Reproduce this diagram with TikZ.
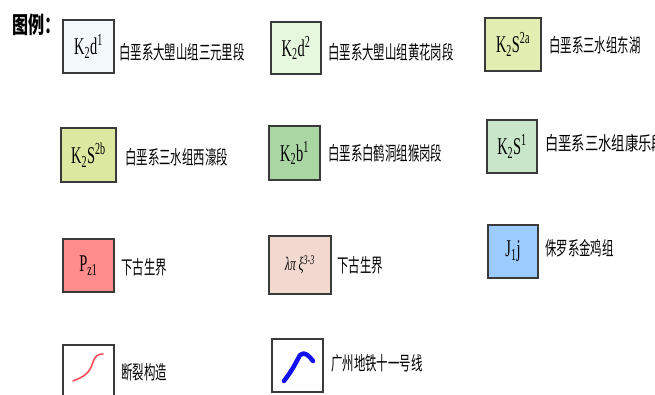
\documentclass[tikz,border=0pt]{standalone}
\usepackage{fontspec}
\setmainfont{Liberation Serif}[FakeStretch=0.6]
\newfontfamily\cjk[FakeStretch=0.6]{Noto Sans CJK SC}
\newfontfamily\cjkwide[FakeStretch=0.7]{Noto Sans CJK SC}
\usepackage{tikz}
\definecolor{edgegray}{HTML}{3A3A3A}
\definecolor{fillA}{HTML}{F4FAFC}
\definecolor{fillB}{HTML}{E6F9DF}
\definecolor{fillC}{HTML}{E2EDB2}
\definecolor{fillD}{HTML}{DCE8A0}
\definecolor{fillE}{HTML}{A9D6A2}
\definecolor{fillF}{HTML}{C9E6CA}
\definecolor{fillG}{HTML}{FF8C8C}
\definecolor{fillH}{HTML}{F2D9CF}
\definecolor{fillI}{HTML}{9CCBFF}
\definecolor{faultred}{HTML}{FF4F5A}
\definecolor{metroblue}{HTML}{1010F0}
\tikzset{
  legbox/.style={draw=edgegray,line width=1.4pt,inner sep=0pt,font=\fontsize{24}{24}\selectfont},
  legtext/.style={anchor=west,inner sep=0pt,font=\cjk\fontsize{19}{19}\selectfont},
}

\begin{document}
\begin{tikzpicture}[x=1pt,y=-1pt]
				\useasboundingbox (0,0) rectangle (655,394);
				%\draw (0,0) grid (655,394);
				\node[anchor=west,inner sep=0pt,font=\cjkwide\bfseries\fontsize{23}{23}\selectfont] (title) at (12,25) {图例：};
				% row 1
				\node[legbox,fill=fillA,minimum width=51pt,minimum height=53pt] (k2d1) at (88.5,46.5) {K\textsubscript{2}d\textsuperscript{1}};
				\node[legtext] (t1) at (119,52) {白垩系大塱山组三元里段};
				\node[legbox,fill=fillB,minimum width=50pt,minimum height=52pt] (k2d2) at (296,48) {K\textsubscript{2}d\textsuperscript{2}};
				\node[legtext] (t2) at (328,52) {白垩系大塱山组黄花岗段};
				\node[legbox,fill=fillC,minimum width=56pt,minimum height=53pt] (k2s2a) at (513,44.5) {K\textsubscript{2}S\textsuperscript{2a}};
				\node[legtext] (t3) at (549,45) {白垩系三水组东湖};
				% row 2
				\node[legbox,fill=fillD,minimum width=55pt,minimum height=54pt] (k2s2b) at (88.5,155) {K\textsubscript{2}S\textsuperscript{2b}};
				\node[legtext] (t4) at (125,157) {白垩系三水组西濠段};
				\node[legbox,fill=fillE,minimum width=51pt,minimum height=54pt] (k2b1) at (294.5,153) {K\textsubscript{2}b\textsuperscript{1}};
				\node[legtext] (t5) at (328,153) {白垩系白鹤洞组猴岗段};
				\node[legbox,fill=fillF,minimum width=50pt,minimum height=53pt] (k2s1) at (512,146.5) {K\textsubscript{2}S\textsuperscript{1}};
				\node[legtext,font=\cjkwide\fontsize{19}{19}\selectfont] (t6) at (545,143) {白垩系三水组康乐段};
				% row 3
				\node[legbox,fill=fillG,minimum width=51pt,minimum height=53pt] (pz1) at (88.5,265.5) {P\textsubscript{z1}};
				\node[legtext] (t7) at (121,267) {下古生界};
				\node[legbox,fill=fillH,minimum width=62pt,minimum height=58pt,font=\itshape\fontsize{19}{19}\selectfont] (lam) at (300,265) {λπ\ ξ\textsuperscript{3-3}};
				\node[legtext] (t8) at (337,265) {下古生界};
				\node[legbox,fill=fillI,minimum width=50pt,minimum height=53pt] (j1j) at (513,251.5) {J\textsubscript{1}j};
				\node[legtext] (t9) at (545,248) {侏罗系金鸡组};
				% row 4
				\node[legbox,fill=white,minimum width=51pt,minimum height=53pt] (fault) at (88.5,371.5) {};
				\draw[faultred,line width=1.6pt,line cap=round] (73,381) .. controls (86,376) and (90,372) .. (93,362) .. controls (95,356) and (98,354) .. (103,354);
				\node[legtext] (t10) at (121,372) {断裂构造};
				\node[legbox,fill=white,minimum width=51pt,minimum height=53pt] (metro) at (297.5,365.5) {};
				\draw[metroblue,line width=4.5pt,line cap=round,line join=round] (284,381) .. controls (292,370) .. (300,355) .. controls (305,351) and (309,356) .. (313,361);
				\node[legtext] (t11) at (331,363) {广州地铁十一号线};
			\end{tikzpicture}
\end{document}
